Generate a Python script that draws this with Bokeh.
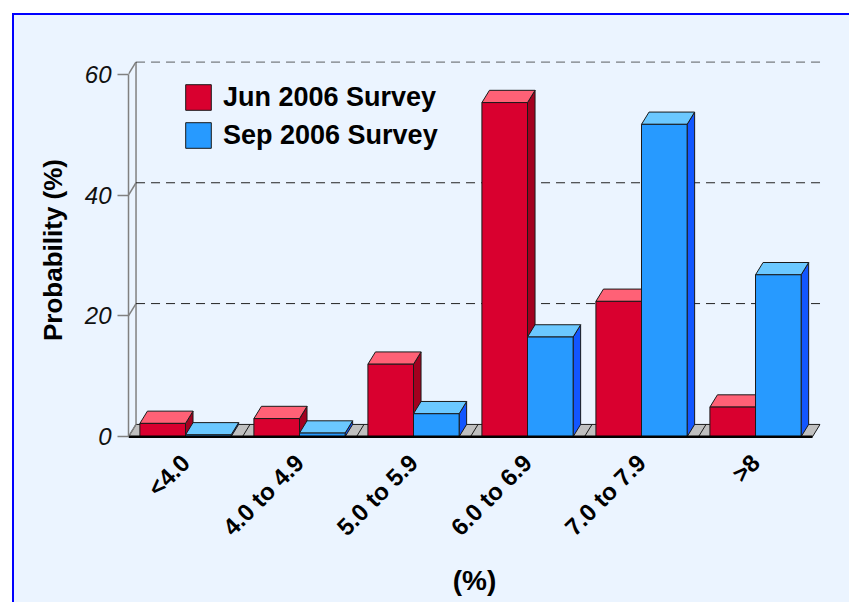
import math
from bokeh.plotting import figure
from bokeh.models import (FixedTicker, Range1d, Legend, LegendItem)
from bokeh.embed import file_html
from bokeh.resources import INLINE

# ---- data ----
categories = ["<4.0", "4.0 to 4.9", "5.0 to 5.9", "6.0 to 6.9", "7.0 to 7.9", ">8"]
jun_2006 = [2.2, 3.0, 12.0, 55.3, 22.4, 4.9]
sep_2006 = [0.3, 0.6, 3.8, 16.5, 51.7, 26.8]
series_names = ["Jun 2006 Survey", "Sep 2006 Survey"]
y_ticks = [0, 20, 40, 60]

# ---- styling / geometry ----
DX = 0.066   # depth offset (category units)
DY = 2.03    # depth offset (value units)
BAR_W = 0.4
PAD = 0.1
FONT = "Liberation Sans"
BG = "#EBF4FF"
OUT = "#1a1a1a"
colors = [
    dict(front="#D9002F", top="#FF6176", side="#A3001F"),
    dict(front="#279AFF", top="#6BC8FF", side="#1256FF"),
]

n = len(categories)
p = figure(width=849, height=602, output_backend="svg", toolbar_location=None,
           x_range=Range1d(0, 6.07), y_range=Range1d(-0.3, 62.1),
           min_border_left=128, min_border_right=29, min_border_top=61, min_border_bottom=164)
p.border_fill_color = None
p.background_fill_color = BG
p.outline_line_color = None
p.grid.visible = False
# outer panel: light blue with white margin and blue border line (top/left)
W = "linear-gradient(#FFFFFF, #FFFFFF)"
B = "linear-gradient(#0000FF, #0000FF)"
p.styles = {
    "background": (f"{W} left top / 12px 100% no-repeat, "
                   f"{W} left top / 100% 13px no-repeat, "
                   f"{B} left top / 14px 100% no-repeat, "
                   f"{B} left top / 100% 15px no-repeat, {BG}"),
}

# floor
floor_x = [0, n, n + DX, DX]
floor_y = [0, 0, DY, DY]
p.patch(floor_x, floor_y, fill_color="#C0C0C0", line_color=OUT, line_width=1)
p.segment(x0=list(range(1, n)), y0=[0] * (n - 1), x1=[k + DX for k in range(1, n)],
          y1=[DY] * (n - 1), line_color=OUT, line_width=1)

# back wall and grid
p.segment(x0=[DX], y0=[DY], x1=[DX], y1=[60 + DY], line_color="#808080", line_width=1.5)
p.segment(x0=[0] * len(y_ticks), y0=y_ticks, x1=[DX] * len(y_ticks),
          y1=[t + DY for t in y_ticks], line_color="#808080", line_width=1.5)
gl = [t for t in y_ticks if t > 0]
p.segment(x0=[DX] * len(gl), y0=[t + DY for t in gl], x1=[n + DX] * len(gl),
          y1=[t + DY for t in gl], line_color="#222222", line_width=1, line_dash="9 6")

# bars
front_renderers = []
for s, vals in enumerate([jun_2006, sep_2006]):
    fx, fy, tx, ty, sx, sy = [], [], [], [], [], []
    for i, h in enumerate(vals):
        x0 = i + PAD + BAR_W * s
        x1 = x0 + BAR_W
        fx.append([x0, x1, x1, x0]); fy.append([0, 0, h, h])
        tx.append([x0, x1, x1 + DX, x0 + DX]); ty.append([h, h, h + DY, h + DY])
        sx.append([x1, x1 + DX, x1 + DX, x1]); sy.append([0, DY, h + DY, h])
    c = colors[s]
    p.patches(sx, sy, fill_color=c["side"], line_color=OUT, line_width=1)
    p.patches(tx, ty, fill_color=c["top"], line_color=OUT, line_width=1)
    r = p.patches(fx, fy, fill_color=c["front"], line_color=OUT, line_width=1)
    front_renderers.append(r)

# baseline
p.segment(x0=[0], y0=[0], x1=[n], y1=[0], line_color="black", line_width=2.5)

# axes
yax = p.yaxis[0]
yax.ticker = FixedTicker(ticks=y_ticks)
yax.bounds = (0, 60)
yax.axis_line_color = "#808080"
yax.axis_line_width = 1.5
yax.major_tick_line_color = "#808080"
yax.major_tick_line_width = 1.5
yax.major_tick_out = 11
yax.major_tick_in = 0
yax.minor_tick_line_color = None
yax.major_label_text_font = FONT
yax.major_label_text_font_style = "italic"
yax.major_label_text_font_size = "24px"
yax.major_label_text_color = "#111111"
yax.major_label_standoff = 6
yax.axis_label = "Probability (%)"
yax.axis_label_text_font = FONT
yax.axis_label_text_font_style = "bold"
yax.axis_label_text_font_size = "26px"
yax.axis_label_text_color = "black"
yax.axis_label_standoff = 14

xax = p.xaxis[0]
xax.ticker = FixedTicker(ticks=[i + 0.5 for i in range(n)])
xax.major_label_overrides = {i + 0.5: c for i, c in enumerate(categories)}
xax.major_label_orientation = math.pi / 4
xax.axis_line_color = None
xax.major_tick_line_color = None
xax.minor_tick_line_color = None
xax.major_label_text_font = FONT
xax.major_label_text_font_style = "bold"
xax.major_label_text_font_size = "24px"
xax.major_label_text_color = "black"
xax.major_label_standoff = 14
xax.axis_label = "(%)"
xax.axis_label_text_font = FONT
xax.axis_label_text_font_style = "bold"
xax.axis_label_text_font_size = "28px"
xax.axis_label_text_color = "black"
xax.axis_label_standoff = 12

legend = Legend(items=[LegendItem(label=series_names[k], renderers=[front_renderers[k]])
                       for k in range(2)],
                location=(54, 287), orientation="vertical")
legend.glyph_width = 32
legend.glyph_height = 32
legend.spacing = 6
legend.padding = 0
legend.margin = 0
legend.label_standoff = 9
legend.label_text_font = FONT
legend.label_text_font_style = "bold"
legend.label_text_font_size = "27px"
legend.label_text_color = "black"
legend.border_line_color = None
legend.background_fill_alpha = 0
p.add_layout(legend)

open("out.html", "w").write(file_html(p, INLINE))
